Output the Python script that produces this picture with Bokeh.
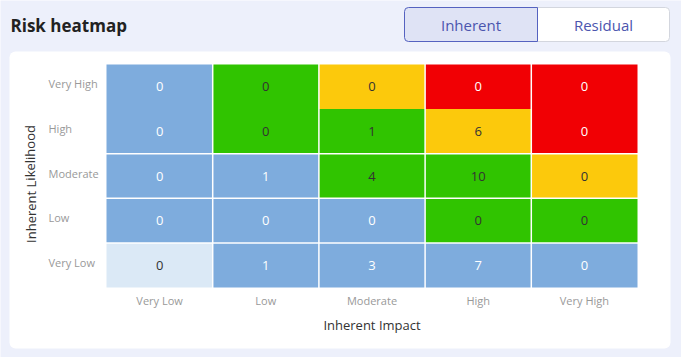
from bokeh.plotting import figure
from bokeh.models import ColumnDataSource, Range1d, BoxAnnotation, Label, LabelSet
from bokeh.core.properties import value
from bokeh.embed import file_html
from bokeh.resources import INLINE

# ---- data -------------------------------------------------------------
impact_levels = ["Very Low", "Low", "Moderate", "High", "Very High"]
likelihood_levels = ["Very Low", "Low", "Moderate", "High", "Very High"]

# risk counts, one list per likelihood row (bottom -> top), columns = impact
counts_very_low = [0, 1, 3, 7, 0]
counts_low = [0, 0, 0, 0, 0]
counts_moderate = [0, 1, 4, 10, 0]
counts_high = [0, 0, 1, 6, 0]
counts_very_high = [0, 0, 0, 0, 0]

# risk rating band of each cell (0 negligible .. 4 critical)
band_very_low = [0, 1, 1, 1, 1]
band_low = [1, 1, 1, 2, 2]
band_moderate = [1, 1, 2, 2, 3]
band_high = [1, 2, 2, 3, 4]
band_very_high = [1, 2, 3, 4, 4]

band_colors = ["#dbe9f6", "#7eacdd", "#30c400", "#fcc90c", "#f10004"]
band_text_colors = ["#333333", "#ffffff", "#333333", "#333333", "#ffffff"]

# ---- layout (pixels) ----------------------------------------------------
W, H = 681, 357
PLOT_L, PLOT_R, PLOT_T, PLOT_B = 106, 637, 64, 287
BG = "#edf0fb"
FONT = "Open Sans"

ncol = len(impact_levels)
nrow = len(likelihood_levels)
px_x = (PLOT_R - PLOT_L) / ncol
px_y = (PLOT_B - PLOT_T) / nrow
x_range = Range1d(-PLOT_L / px_x, (W - PLOT_L) / px_x)
y_range = Range1d(-(H - PLOT_B) / px_y, PLOT_B / px_y)

# ---- build cell table ---------------------------------------------------
count_rows = [counts_very_low, counts_low, counts_moderate, counts_high, counts_very_high]
band_rows = [band_very_low, band_low, band_moderate, band_high, band_very_high]

gx = 0.75 / px_x
gy = 0.75 / px_y
L, R, B, T, XC, YC, TXT, FC, TC = [], [], [], [], [], [], [], [], []
for j, (crow, brow) in enumerate(zip(count_rows, band_rows)):
    for i, (c, b) in enumerate(zip(crow, brow)):
        L.append(i + (gx if i > 0 else 0))
        R.append(i + 1 - (gx if i < ncol - 1 else 0))
        bottom = j + (gy if j > 0 else 0)
        top = j + 1 - (gy if j < nrow - 1 else 0)
        if j == 3:
            top = j + 1
        if j == 4:
            bottom = j
        B.append(bottom)
        T.append(top)
        XC.append(i + 0.5)
        YC.append(j + 0.5)
        TXT.append(str(c))
        FC.append(band_colors[b])
        TC.append(band_text_colors[b])

cells = ColumnDataSource(dict(left=L, right=R, bottom=B, top=T, xc=XC, yc=YC,
                              label=TXT, fill=FC, tcol=TC))

p = figure(width=W, height=H, output_backend="svg", toolbar_location=None,
           x_range=x_range, y_range=y_range,
           x_axis_location=None, y_axis_location=None,
           min_border=0, min_border_left=0, min_border_right=0,
           min_border_top=0, min_border_bottom=0)
p.border_fill_color = BG
p.background_fill_color = BG
p.outline_line_color = None
p.grid.visible = False


def cbox(l, r, t, b, **kw):
    return BoxAnnotation(left=l, right=r, top=t, bottom=b,
                         left_units="canvas", right_units="canvas",
                         top_units="canvas", bottom_units="canvas",
                         fill_alpha=1, line_alpha=1, level="underlay", **kw)


# card and toggle buttons
p.add_layout(cbox(9, 670, 51, 348, fill_color="white", line_color=None, border_radius=6))
p.add_layout(cbox(537, 669, 7, 41, fill_color="white", line_color="#d3d6de",
                  line_width=1, border_radius=(0, 4, 4, 0)))
p.add_layout(cbox(404, 537, 7, 41, fill_color="#dfe3f5", line_color="#5562c0",
                  line_width=1, border_radius=(4, 0, 0, 4)))

p.add_layout(Label(x=10, y=25, x_units="canvas", y_units="canvas", text="Risk heatmap",
                   text_font=FONT, text_font_size="17px", text_font_style="bold",
                   text_color="#222222", text_align="left", text_baseline="middle"))
p.add_layout(Label(x=470.5, y=24.5, x_units="canvas", y_units="canvas", text="Inherent",
                   text_font=FONT, text_font_size="15px", text_color="#4b55ae",
                   text_align="center", text_baseline="middle"))
p.add_layout(Label(x=603, y=24.5, x_units="canvas", y_units="canvas", text="Residual",
                   text_font=FONT, text_font_size="15px", text_color="#4b55ae",
                   text_align="center", text_baseline="middle"))

# heatmap cells and counts
p.quad(left="left", right="right", bottom="bottom", top="top", source=cells,
       fill_color="fill", line_color=None)
p.text(x="xc", y="yc", text="label", source=cells, text_color="tcol",
       text_font=value(FONT), text_font_size="13px",
       text_align="center", text_baseline="middle")

# category labels (axis labels)
xsrc = ColumnDataSource(dict(x=[i + 0.5 for i in range(ncol)], name=impact_levels))
p.add_layout(LabelSet(x="x", y=PLOT_B + 13, y_units="canvas", text="name", source=xsrc,
                      text_font=value(FONT), text_font_size="11px", text_color="#999999",
                      text_align="center", text_baseline="middle"))
ysrc = ColumnDataSource(dict(y=[j + 0.5 for j in range(nrow)], name=likelihood_levels))
p.add_layout(LabelSet(x=48, x_units="canvas", y="y", text="name", source=ysrc,
                      y_offset=3,
                      text_font=value(FONT), text_font_size="11px", text_color="#999999",
                      text_align="left", text_baseline="middle"))

# axis titles
p.add_layout(Label(x=(PLOT_L + PLOT_R) / 2, y=324, x_units="canvas", y_units="canvas",
                   text="Inherent Impact",
                   text_font=FONT, text_font_size="13px", text_color="#333333",
                   text_align="center", text_baseline="middle"))
p.add_layout(Label(x=30, y=183.5, x_units="canvas", y_units="canvas",
                   text="Inherent Likelihood", angle=1.5708,
                   text_font=FONT, text_font_size="13px", text_color="#333333",
                   text_align="center", text_baseline="middle"))

open("out.html", "w").write(file_html(p, INLINE))
